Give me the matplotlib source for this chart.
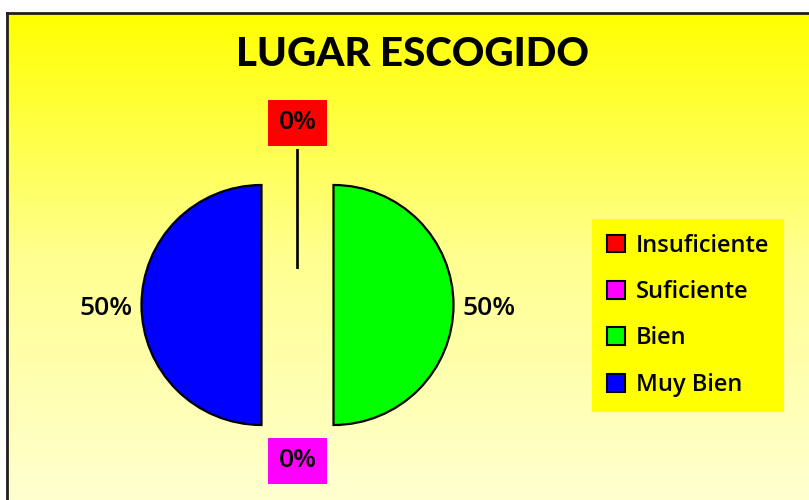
import numpy as np
import matplotlib.pyplot as plt
from matplotlib.colors import LinearSegmentedColormap

# data
categorias = ['Insuficiente', 'Suficiente', 'Bien', 'Muy Bien']
valores = [0, 0, 1, 1]
colores = ['#FF0000', '#FF00FF', '#00FF00', '#0000FF']
titulo = 'LUGAR ESCOGIDO'

W, H = 809, 500
fig = plt.figure(figsize=(W / 100, H / 100), dpi=100)
fig.patch.set_facecolor('white')

# background panel with yellow gradient
bg = fig.add_axes([7 / W, 0, 1 - 7 / W, (H - 13) / H])
cmap = LinearSegmentedColormap.from_list('amarillo', ['#FFFF00', '#FFFF90', '#FFFFCF'])
grad = np.linspace(0, 1, 256).reshape(-1, 1)
bg.imshow(grad, cmap=cmap, aspect='auto', extent=[0, 1, 0, 1], origin='upper')
bg.set_xticks([])
bg.set_yticks([])
for s in ['right', 'bottom']:
    bg.spines[s].set_visible(False)
for s in ['left', 'top']:
    bg.spines[s].set_linewidth(2)
    bg.spines[s].set_color('#202020')

# pie axes: 1 unit = 120 px, pie centre at (297.5, 305) px from top-left
R = 120.0
cx, cy = 297.5, 305.0
ax = fig.add_axes([0, 0, 1, 1])
ax.patch.set_visible(False)

fuente = 'Open Sans'

def fmt(p):
    return '%d%%' % round(p)

wedges, textos, pcts = ax.pie(valores, colors=colores, startangle=90, counterclock=False,
                              explode=[0.3] * 4, autopct=fmt, pctdistance=1.30,
                              wedgeprops=dict(edgecolor='black', linewidth=1.6),
                              textprops=dict(fontsize=19, family=fuente, color='black',
                                             fontweight='semibold'))

# zero-value labels sit in coloured boxes (top and bottom)
pcts[0].set_position((0, (cy - 123) / R))
pcts[1].set_position((0, (cy - 461) / R))
for i in [0, 1]:
    pcts[i].set_bbox(dict(facecolor=colores[i], edgecolor='none', pad=0.4, boxstyle='square'))
for i in [2, 3]:
    x, y = pcts[i].get_position()
    pcts[i].set_position((x, y - 4 / R))

ax.set_xlim(-cx / R, (W - cx) / R)
ax.set_ylim(-(H - cy) / R, cy / R)
ax.set_aspect('equal')
ax.axis('off')

fig.text(412.5 / W, 1 - 54 / H, titulo, ha='center', va='center', fontsize=29,
         family='Lato', fontweight='black')

leg = fig.legend(wedges, categorias, loc='upper left',
                 bbox_to_anchor=(592 / W, 1 - 219 / H),
                 frameon=True, fancybox=False, facecolor='#FFFF00', edgecolor='none',
                 framealpha=1, prop=dict(family=fuente, size=17, weight='semibold'),
                 handlelength=0.78, handleheight=0.78, handletextpad=0.45,
                 labelspacing=0.95, borderpad=0.62, borderaxespad=0)
for h in leg.legend_handles:
    h.set_linewidth(1.5)

fig.savefig('out.png', dpi=100)
